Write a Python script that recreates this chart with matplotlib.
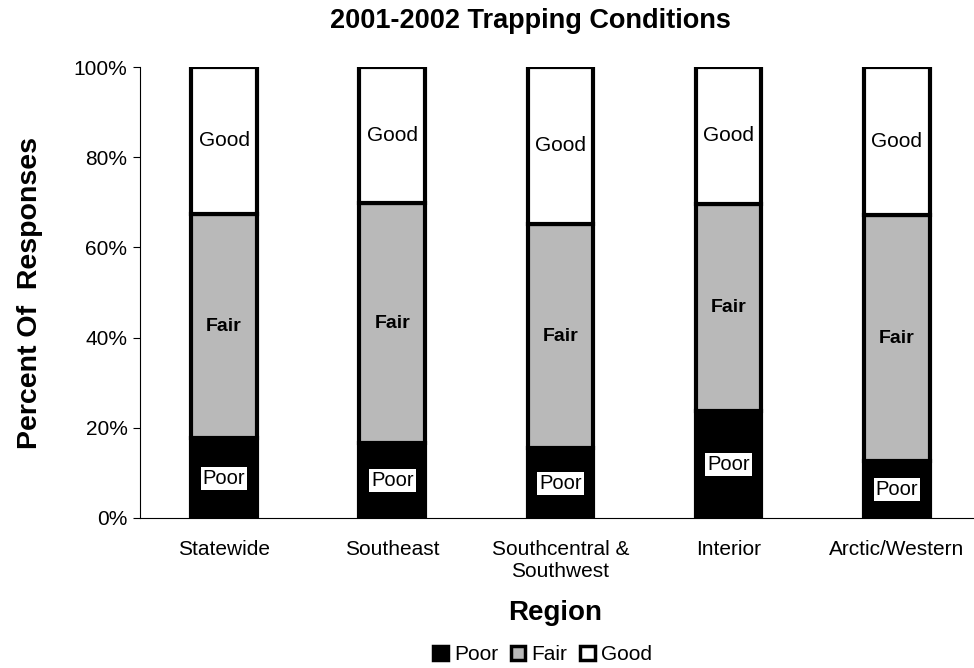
import matplotlib.pyplot as plt
from matplotlib.patches import Patch

plt.rcParams['font.family'] = ['Liberation Sans', 'DejaVu Sans']

regions = ["Statewide", "Southeast", "Southcentral &\nSouthwest", "Interior", "Arctic/Western"]
poor = [17.7, 16.6, 15.5, 23.7, 12.6]
fair = [49.7, 53.2, 49.7, 45.9, 54.6]
good = [32.6, 30.2, 34.8, 30.4, 32.8]

colors = {"Poor": "black", "Fair": "#b9b9b9", "Good": "white"}

fig = plt.figure(figsize=(9.74, 6.68), dpi=100)
ax = fig.add_axes([0.1437, 0.2246, 0.8635, 0.675])

x = range(len(regions))
w = 0.39
bottoms = [0] * len(regions)
for name, vals in [("Poor", poor), ("Fair", fair), ("Good", good)]:
    ax.bar(x, vals, w, bottom=bottoms, color=colors[name], edgecolor="black", linewidth=3)
    for i, v in enumerate(vals):
        yc = bottoms[i] + v / 2
        if name == "Poor":
            ax.text(i, yc, name, ha="center", va="center", fontsize=14.5,
                    bbox=dict(facecolor="white", edgecolor="none", pad=1.5))
        elif name == "Fair":
            ax.text(i, yc, name, ha="center", va="center", fontsize=14, fontweight="bold")
        else:
            ax.text(i, yc, name, ha="center", va="center", fontsize=15)
    bottoms = [b + v for b, v in zip(bottoms, vals)]

ax.set_xlim(-0.5, 4.5)
ax.set_ylim(0, 100)
ax.set_yticks([0, 20, 40, 60, 80, 100])
ax.set_yticklabels([f"{t}%" for t in [0, 20, 40, 60, 80, 100]], fontsize=15)
ax.set_xticks(list(x))
ax.set_xticklabels(regions, fontsize=15)
ax.tick_params(axis="x", length=0, pad=16)
ax.tick_params(axis="y", length=5, direction="out", pad=4)
ax.spines["top"].set_visible(False)
ax.spines["right"].set_visible(False)

ax.set_ylabel("Percent Of  Responses", fontsize=20.5, fontweight="bold", labelpad=22)
fig.text(0.57, 0.082, "Region", ha="center", va="center", fontsize=20, fontweight="bold")
fig.text(0.545, 0.968, "2001-2002 Trapping Conditions", ha="center", va="center",
         fontsize=19.5, fontweight="bold")

handles = [Patch(facecolor=colors[n], edgecolor="black", linewidth=2.5, label=n)
           for n in ["Poor", "Fair", "Good"]]
fig.legend(handles=handles, loc="center", bbox_to_anchor=(0.557, 0.02), ncol=3,
           frameon=False, fontsize=15, handlelength=0.7, handleheight=0.7,
           handletextpad=0.3, columnspacing=0.6, borderpad=0)

fig.savefig("out.png", dpi=100)
